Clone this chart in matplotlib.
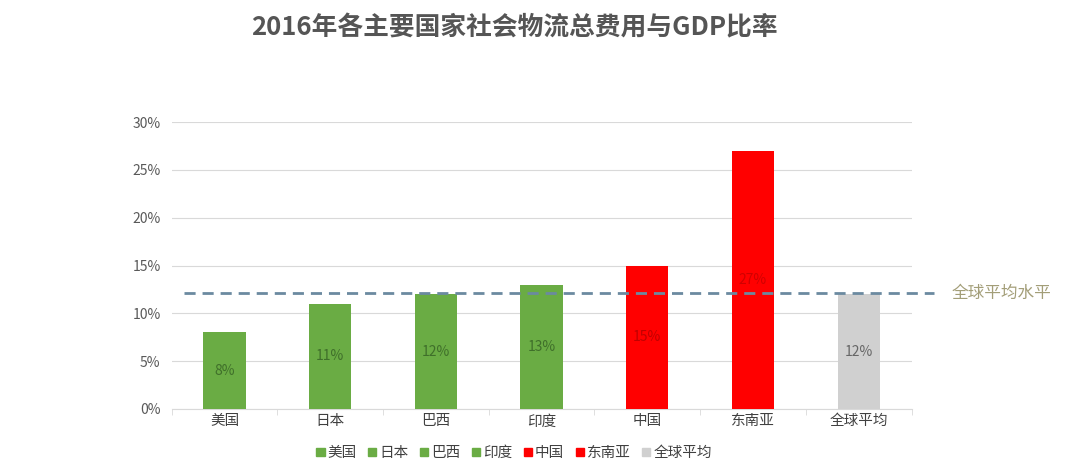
import numpy as np
import matplotlib.pyplot as plt
from matplotlib.patches import Patch

plt.rcParams['font.family'] = ['Noto Sans CJK SC', 'DejaVu Sans']

categories = ["美国", "日本", "巴西", "印度", "中国", "东南亚", "全球平均"]
values = [8, 11, 12, 13, 15, 27, 12]
bar_colors = ["#6aac44", "#6aac44", "#6aac44", "#6aac44", "#ff0000", "#ff0000", "#d0d0d0"]
label_colors = ["#3f6f2a", "#3f6f2a", "#3f6f2a", "#3f6f2a", "#c00000", "#d00000", "#666666"]
global_avg = 12.1

fig = plt.figure(figsize=(10.8, 4.7), dpi=100)
ax = fig.add_axes([0.159, 0.130, 0.685, 0.610])

x = np.arange(len(categories))
ax.bar(x, values, width=0.4, color=bar_colors, zorder=3)

for xi, v, c in zip(x, values, label_colors):
    ax.text(xi, v / 2, f"{v}%", ha="center", va="center", fontsize=10, color=c, zorder=4)

ax.set_ylim(0, 30)
ax.set_xlim(-0.5, len(categories) - 0.5)
ax.set_yticks(np.arange(0, 31, 5))
ax.set_yticklabels([f"{t}%" for t in range(0, 31, 5)], color="#595959", fontsize=10)
ax.set_xticks(x)
ax.set_xticklabels(categories, color="#404040", fontsize=10.5)
ax.tick_params(axis="y", length=0, pad=8)
ax.tick_params(axis="x", length=0, pad=4)
ax.set_xticks(np.arange(-0.5, len(categories), 1), minor=True)
ax.tick_params(axis="x", which="minor", length=4, color="#d9d9d9")

ax.grid(axis="y", color="#d9d9d9", linewidth=0.8, zorder=0)
for s in ["top", "right", "left"]:
    ax.spines[s].set_visible(False)
ax.spines["bottom"].set_color("#d9d9d9")

ax.axhline(global_avg, xmin=0.016, xmax=1.031, color="#6b8aa0", linestyle=(0, (4, 2.5)),
           linewidth=2, clip_on=False, zorder=5)
ax.text(1.054, global_avg, "全球平均水平", transform=ax.get_yaxis_transform(),
        ha="left", va="center", fontsize=12, color="#a39e78")

handles = [Patch(color=c) for c in bar_colors]
fig.legend(handles, categories, loc="center", bbox_to_anchor=(0.476, 0.036), ncol=7,
           frameon=False, fontsize=10.5, handlelength=0.55, handleheight=0.55,
           handletextpad=0.2, columnspacing=0.8, labelcolor="#404040")

fig.text(0.476, 0.94, "2016年各主要国家社会物流总费用与GDP比率", ha="center", va="center",
         fontsize=18.5, fontweight="bold", color="#555555")

fig.savefig("out.png", dpi=100)
